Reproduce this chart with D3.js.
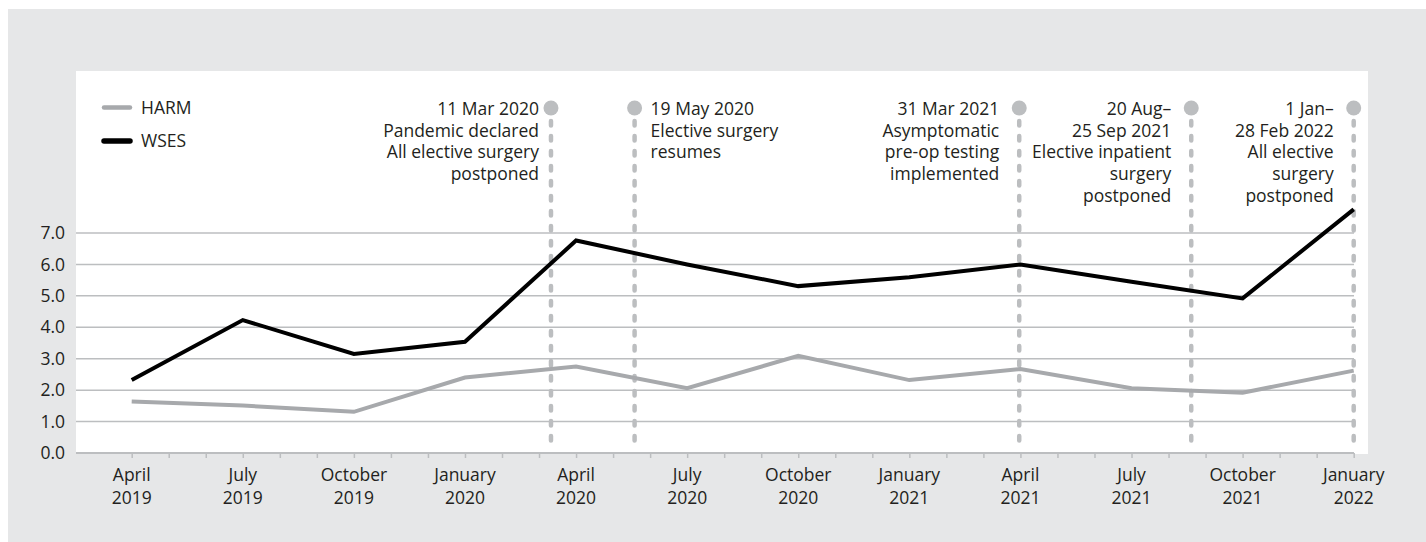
<!DOCTYPE html>
<html>
<head>
<meta charset="utf-8">
<script src="https://cdn.jsdelivr.net/npm/d3@7"></script>
<style>
  html, body { margin: 0; padding: 0; background: #ffffff; }
  svg { display: block; }
  text { font-family: "Open Sans", "Noto Sans", sans-serif; fill: #231f20; }
</style>
</head>
<body>
<svg id="chart" width="1426" height="542"></svg>
<script>
// ---------- DATA ----------
const categories = ["April 2019", "July 2019", "October 2019", "January 2020",
  "April 2020", "July 2020", "October 2020", "January 2021",
  "April 2021", "July 2021", "October 2021", "January 2022"];
const harm = [1.64, 1.51, 1.31, 2.40, 2.75, 2.06, 3.09, 2.32, 2.67, 2.06, 1.92, 2.62];
const wses = [2.32, 4.23, 3.15, 3.54, 6.76, 6.00, 5.31, 5.59, 6.00, 5.45, 4.92, 7.75];
const yTicks = [0, 1, 2, 3, 4, 5, 6, 7];
const seriesNames = ["HARM", "WSES"];
const eventDates = ["2020-03-11", "2020-05-19", "2021-03-31", "2021-08-20", "2022-01-01"];
const eventTexts = [
  ["11 Mar 2020", "Pandemic declared", "All elective surgery", "postponed"],
  ["19 May 2020", "Elective surgery", "resumes"],
  ["31 Mar 2021", "Asymptomatic", "pre-op testing", "implemented"],
  ["20 Aug\u2013", "25 Sep 2021", "Elective inpatient", "surgery", "postponed"],
  ["1 Jan\u2013", "28 Feb 2022", "All elective", "surgery", "postponed"]
];

// ---------- LAYOUT / STYLE ----------
const W = 1426, H = 542;
const bgGray = "#e6e7e8";
const gridGray = "#bcbec0";
const harmColor = "#a7a9ac";
const wsesColor = "#000000";
const eventColor = "#bcbec0";
const fontSize = 17.5;

const panel = { x0: 76, y0: 71, x1: 1368, y1: 454 };
const plotLeft = 76, plotRight = 1354;

const svg = d3.select("#chart");

// Backgrounds
svg.append("rect").attr("x", 8).attr("y", 9).attr("width", W - 8).attr("height", H - 9).attr("fill", bgGray);
svg.append("rect").attr("x", panel.x0).attr("y", panel.y0)
  .attr("width", panel.x1 - panel.x0).attr("height", panel.y1 - panel.y0).attr("fill", "#ffffff");

// Month index relative to April 2019
const parseCat = d3.timeParse("%B %Y");
const parseDay = d3.timeParse("%Y-%m-%d");
function monthIndex(date) {
  const y = date.getFullYear(), m = date.getMonth();
  const dim = new Date(y, m + 1, 0).getDate();
  return (y - 2019) * 12 + (m - 3) + (date.getDate() - 1) / dim;
}
const catIdx = categories.map(c => monthIndex(parseCat(c)));

const x = d3.scaleLinear().domain([0, 33]).range([131.7, 1353.7]);
const y = d3.scaleLinear().domain([0, 7]).range([453, 233]);

// Gridlines
svg.append("g").selectAll("line").data(yTicks.filter(t => t > 0)).join("line")
  .attr("x1", plotLeft).attr("x2", plotRight)
  .attr("y1", d => y(d)).attr("y2", d => y(d))
  .attr("stroke", gridGray).attr("stroke-width", 1.5);

// Y axis labels
const yAxis = d3.axisLeft(y).tickValues(yTicks).tickFormat(d3.format(".1f")).tickSize(0).tickPadding(0);
const yG = svg.append("g").attr("transform", `translate(65,0)`).call(yAxis);
yG.select(".domain").remove();
yG.selectAll("text").attr("font-size", fontSize).attr("font-family", null).attr("fill", "#231f20");

// X axis: monthly ticks
const xAxis = d3.axisBottom(x).tickValues(d3.range(0, 34)).tickSize(5).tickFormat("");
const xG = svg.append("g").attr("transform", `translate(0,${y(0)})`).call(xAxis);
xG.select(".domain").remove();
xG.selectAll(".tick line").attr("stroke", gridGray).attr("stroke-width", 1.5);
svg.append("line").attr("x1", plotLeft).attr("x2", plotRight)
  .attr("y1", y(0)).attr("y2", y(0)).attr("stroke", gridGray).attr("stroke-width", 2);

// X labels (two lines)
const xl = svg.append("g").selectAll("text").data(categories).join("text")
  .attr("text-anchor", "middle").attr("font-size", fontSize)
  .attr("transform", (d, i) => `translate(${x(catIdx[i])},481)`);
xl.append("tspan").attr("x", 0).attr("y", 0).text(d => d.split(" ")[0]);
xl.append("tspan").attr("x", 0).attr("y", 22.5).text(d => d.split(" ")[1]);

// Event markers
const eventAnchor = ["end", "start", "end", "end", "end"];
const eventGap = [12, 16, 20, 20, 20];
const evIdx = eventDates.map(d => monthIndex(parseDay(d)));
const evG = svg.append("g");
evIdx.forEach((mi, k) => {
  const ex = x(mi);
  evG.append("line").attr("x1", ex).attr("x2", ex).attr("y1", 121).attr("y2", y(0) - 2)
    .attr("stroke", eventColor).attr("stroke-width", 4.5)
    .attr("stroke-dasharray", "4.5,10.5").attr("stroke-linecap", "round");
  evG.append("circle").attr("cx", ex).attr("cy", 108).attr("r", 7.5).attr("fill", eventColor);
  const tx = eventAnchor[k] === "end" ? ex - eventGap[k] : ex + eventGap[k];
  const t = evG.append("text").attr("text-anchor", eventAnchor[k]).attr("font-size", fontSize);
  eventTexts[k].forEach((line, j) => {
    t.append("tspan").attr("x", tx).attr("y", 115 + j * 21.7).text(line);
  });
});

// Data lines
const lineGen = d3.line().x((d, i) => x(catIdx[i])).y(d => y(d));
svg.append("path").datum(harm).attr("d", lineGen).attr("fill", "none")
  .attr("stroke", harmColor).attr("stroke-width", 4);
svg.append("path").datum(wses).attr("d", lineGen).attr("fill", "none")
  .attr("stroke", wsesColor).attr("stroke-width", 4);

// Legend
const legColors = [harmColor, wsesColor];
const legY = [107.5, 141];
const leg = svg.append("g");
seriesNames.forEach((name, i) => {
  leg.append("line").attr("x1", 104).attr("x2", 130).attr("y1", legY[i]).attr("y2", legY[i])
    .attr("stroke", legColors[i]).attr("stroke-width", i === 0 ? 4.5 : 5.5).attr("stroke-linecap", "round");
  leg.append("text").attr("x", 141).attr("y", legY[i]).attr("dy", "0.35em")
    .attr("font-size", fontSize).text(name);
});
</script>
</body>
</html>
